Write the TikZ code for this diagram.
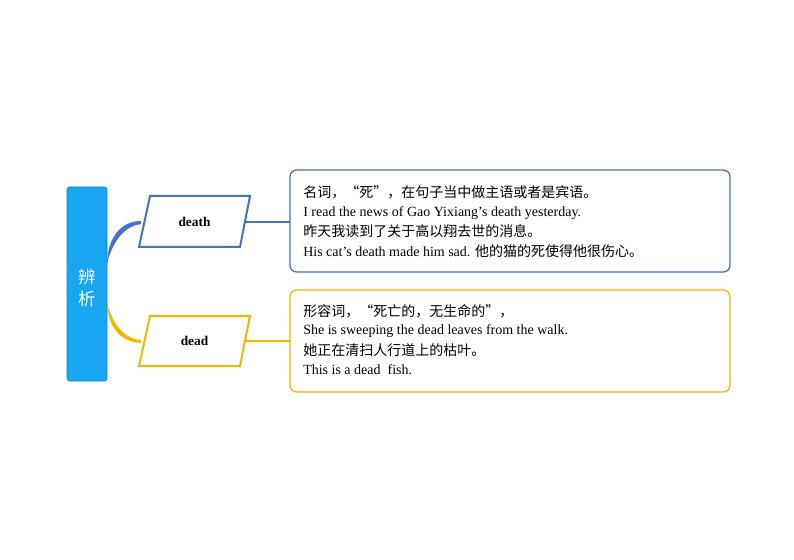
\documentclass[tikz,border=0pt]{standalone}
\usepackage{fontspec}
\setmainfont{Liberation Serif}
\newfontfamily\cjk{Noto Sans CJK SC}
\definecolor{cblue}{HTML}{4472C4}
\definecolor{corange}{HTML}{F2B800}
\definecolor{cside}{HTML}{17A6F2}
\begin{document}
\begin{tikzpicture}[x=0.75pt,y=-0.75pt,
  para/.style={line width=1.5pt,fill=white},
  box/.style={rounded corners=5pt,line width=1pt,fill=white},
  txt/.style={anchor=west,font=\fontsize{10.5}{12}\selectfont,inner sep=0pt}]
\useasboundingbox (0,0) rectangle (794,560);
\node[fill=cside,draw=cside!80!black,rounded corners=2pt,minimum width=30pt,minimum height=145.5pt,line width=0.5pt] (side) at (87,284) {};
\node[text=white,font=\cjk\fontsize{13}{17}\selectfont,align=center] (sidet) at (87,288) {辨\\析};
% connectors
\fill[cblue] (107,263) .. controls (108,236) and (122,221) .. (141,221) -- (141,224) .. controls (126,226) and (114,238) .. (107,263) -- cycle;
\fill[corange] (107,303) .. controls (108,328) and (121,342) .. (141,343) -- (141,340) .. controls (126,339) and (114,328) .. (107,303) -- cycle;
% parallelograms
\draw[para,draw=cblue] (150,196) -- (250,196) -- (240,247) -- (139,247) -- cycle;
\node[font=\bfseries\fontsize{10}{12}\selectfont] (death) at (194.5,222) {death};
\draw[para,draw=corange] (150,316) -- (250,316) -- (240,366) -- (139,366) -- cycle;
\node[font=\bfseries\fontsize{10}{12}\selectfont] (dead) at (194.5,341) {dead};
% boxes
\draw[box,draw=cblue] (290,170) rectangle (730,272);
\draw[box,draw=corange] (290,290) rectangle (730,392);
\coordinate (b1) at (290,222);
\coordinate (b2) at (290,341);
\draw[cblue,line width=1.5pt] (245,222) -- (b1);
\draw[corange,line width=1.5pt] (245,341) -- (b2);
% texts box 1
\node[txt] (t11) at (303,192) {\cjk 名词，“死”，在句子当中做主语或者是宾语。};
\node[txt] (t12) at (303,213) {I read the news of Gao Yixiang’s death yesterday.};
\node[txt] (t13) at (303,231) {\cjk 昨天我读到了关于高以翔去世的消息。};
\node[txt] (t14) at (303,251) {His cat’s death made him sad. {\cjk 他的猫的死使得他很伤心。}};
% texts box 2
\node[txt] (t21) at (303,311) {\cjk 形容词，“死亡的，无生命的”，};
\node[txt] (t22) at (303,331) {She is sweeping the dead leaves from the walk.};
\node[txt] (t23) at (303,350) {\cjk 她正在清扫人行道上的枯叶。};
\node[txt] (t24) at (303,370) {This is a dead\ \ fish.};
\end{tikzpicture}
\end{document}
